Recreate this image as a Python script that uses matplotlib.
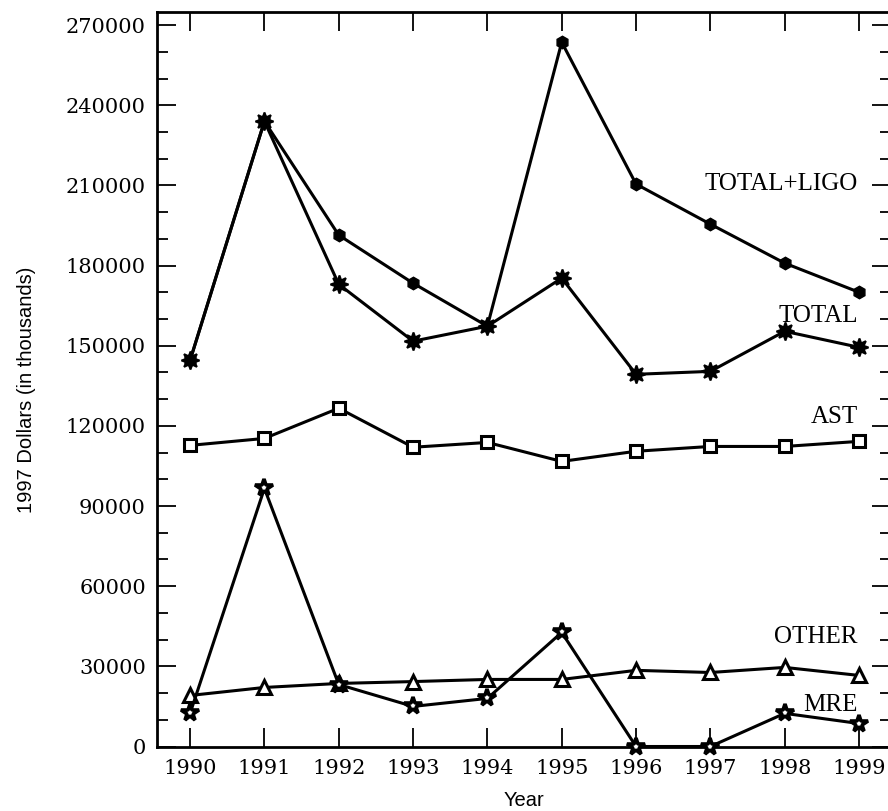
import matplotlib
matplotlib.use("Agg")
import matplotlib.pyplot as plt
from matplotlib.ticker import MultipleLocator

years = [1990, 1991, 1992, 1993, 1994, 1995, 1996, 1997, 1998, 1999]
total_ligo = [144500, 234000, 191400, 173400, 157300, 263600, 210500, 195500, 180900, 170000]
total = [144500, 234000, 173000, 151700, 157300, 175300, 139300, 140400, 155400, 149400]
ast = [112700, 115300, 126600, 112000, 113800, 106700, 110500, 112300, 112300, 114200]
other = [19100, 22100, 23600, 24300, 25100, 25100, 28500, 27700, 29600, 26600]
mre = [12400, 96600, 23200, 15000, 18000, 42700, 0, 0, 12400, 8600]

labels = ["TOTAL+LIGO", "TOTAL", "AST", "OTHER", "MRE"]
label_y = [210500, 161000, 123500, 41000, 15500]

fig = plt.figure(figsize=(8.88, 8.11), dpi=100)
ax = fig.add_axes([157 / 888, 64.5 / 811, (891 - 157) / 888, (799 - 64.5) / 811])

lw = 2.2
ax.plot(years, total_ligo, color="black", lw=lw, marker="h", ms=9,
        mfc="black", mec="black", zorder=3)
ax.plot(years, total, color="black", lw=lw, marker=(8, 1, 0), ms=13,
        mfc="black", mec="black", mew=1.4, zorder=4)
ax.plot(years, ast, color="black", lw=lw, marker="s", ms=8,
        mfc="white", mec="black", mew=2.2, zorder=3)
ax.plot(years, other, color="black", lw=lw, marker="^", ms=10,
        mfc="white", mec="black", mew=2.2, zorder=3)
ax.plot(years, mre, color="black", lw=lw, marker="*", ms=13,
        mfc="white", mec="black", mew=2.6, zorder=3, clip_on=False)

for text, yv in zip(labels, label_y):
    ax.text(1998.98, yv, text, ha="right", va="center", fontsize=18,
            family="Liberation Serif")

ax.set_xlim(1989.555, 1999.43)
ax.set_ylim(0, 274900)
ax.set_xticks(years)
ax.yaxis.set_major_locator(MultipleLocator(30000))
ax.yaxis.set_minor_locator(MultipleLocator(10000))
ax.tick_params(which="both", direction="in", top=True, right=True, width=1.3)
ax.tick_params(which="major", length=14)
ax.tick_params(which="minor", length=8)
ax.tick_params(axis="x", which="minor", top=False, bottom=False)
ax.tick_params(axis="x", pad=9)
ax.tick_params(axis="y", pad=8)
for lab in ax.get_xticklabels() + ax.get_yticklabels():
    lab.set_family("DejaVu Serif")
    lab.set_fontsize(15)
for sp in ax.spines.values():
    sp.set_linewidth(2)

ax.set_xlabel("Year", fontsize=14.5, family="Liberation Sans", labelpad=9)
ax.set_ylabel("1997 Dollars (in thousands)", fontsize=14.5,
              family="Liberation Sans")
ax.yaxis.set_label_coords(-0.165, 0.485)

fig.savefig("out.png", dpi=100)
